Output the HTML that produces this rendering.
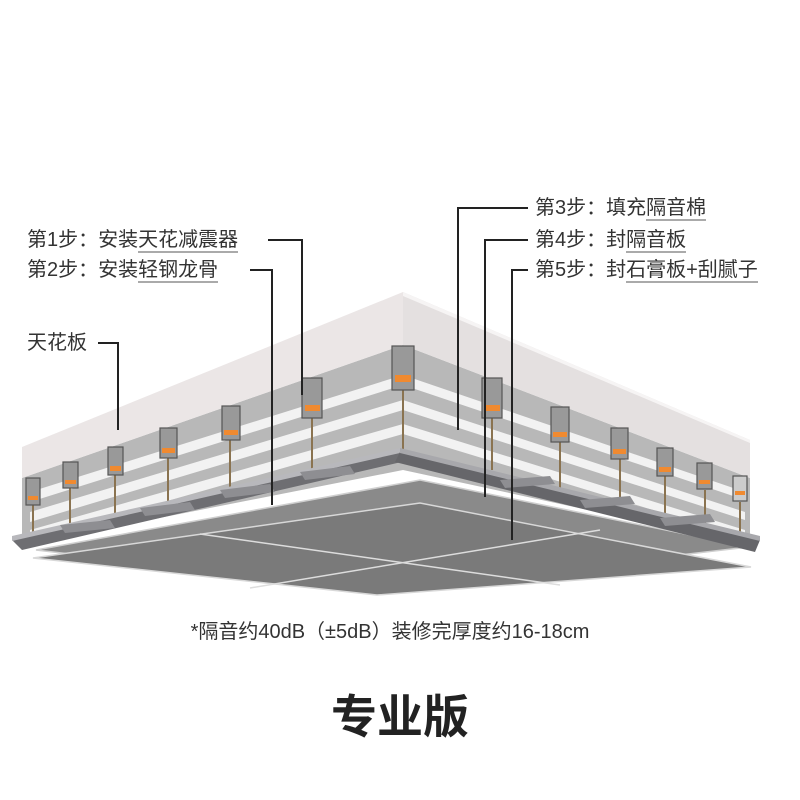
<!DOCTYPE html>
<html><head><meta charset="utf-8"><style>
html,body{margin:0;padding:0;background:#fff;}
body{width:800px;height:800px;position:relative;overflow:hidden;font-family:"Liberation Sans","Noto Sans CJK SC",sans-serif;}
.t{position:absolute;font-size:20px;color:#333;white-space:nowrap;line-height:22px;}
.u{border-bottom:2px solid #aaa;}
</style></head><body>
<svg width="800" height="800" style="position:absolute;left:0;top:0">
<polygon points="22,478 403,345 750,478 750,545 403,470 22,545" fill="#b8b8b8"/>
<g fill="#f2f2f2">
<polygon points="30,492 403,375 745,492 745,500 403,385 30,502"/>
<polygon points="30,512 403,400 745,512 745,520 403,410 30,522"/>
<polygon points="30,530 403,424 745,530 745,538 403,434 30,540"/>
</g>
<polygon points="22,447 403,292 403,345 22,478" fill="#ebe6e6"/>
<polygon points="403,292 750,440 750,478 403,345" fill="#e4e0e0"/>
<polygon points="403,292 750,440 750,443 403,296" fill="#f6f4f4"/>
<polygon points="36,550 420,480 749,547 377,590" fill="#8a8a8a" stroke="#cfcfcf" stroke-width="1.5"/>
<polygon points="33,558 420,503 751,567 377,595" fill="#7a7a7a" stroke="#d8d8d8" stroke-width="1.5"/>
<line x1="200" y1="534" x2="560" y2="585" stroke="#ddd" stroke-width="1.5"/>
<line x1="250" y1="588" x2="600" y2="530" stroke="#ddd" stroke-width="1.5"/>
<g stroke="#8a7350" stroke-width="2">
<line x1="33" y1="505" x2="33" y2="535"/><line x1="70" y1="487" x2="70" y2="525"/>
<line x1="115" y1="475" x2="115" y2="517"/><line x1="168" y1="458" x2="168" y2="505"/>
<line x1="230" y1="440" x2="230" y2="490"/><line x1="312" y1="418" x2="312" y2="470"/>
<line x1="403" y1="390" x2="403" y2="455"/><line x1="492" y1="418" x2="492" y2="470"/>
<line x1="560" y1="440" x2="560" y2="490"/><line x1="620" y1="458" x2="620" y2="505"/>
<line x1="665" y1="475" x2="665" y2="515"/><line x1="705" y1="490" x2="705" y2="525"/>
<line x1="740" y1="502" x2="740" y2="535"/>
</g>
<polygon points="12,540 400,452 410,460 22,550" fill="#6e6e72"/>
<polygon points="12,536 400,448 400,453 12,541" fill="#b8b8bc"/>
<polygon points="400,452 760,540 755,552 395,462" fill="#66666a"/>
<polygon points="400,448 760,536 760,541 400,453" fill="#a8a8ac"/>
<g fill="#8e8e92">
<polygon points="60,525 110,520 115,528 65,533"/><polygon points="140,508 190,502 195,510 145,516"/>
<polygon points="220,490 270,484 275,492 225,498"/><polygon points="300,472 350,466 355,474 305,480"/>
<polygon points="500,480 550,476 555,484 505,488"/><polygon points="580,500 630,496 635,504 585,508"/>
<polygon points="660,518 710,514 715,522 665,526"/>
</g>
<g stroke="#555" stroke-width="1.2">
<rect x="26" y="478" width="14" height="27" fill="#999"/>
<rect x="63" y="462" width="15" height="26" fill="#999"/>
<rect x="108" y="447" width="15" height="28" fill="#999"/>
<rect x="160" y="428" width="17" height="30" fill="#999"/>
<rect x="222" y="406" width="18" height="34" fill="#999"/>
<rect x="302" y="378" width="20" height="40" fill="#999"/>
<rect x="392" y="346" width="22" height="44" fill="#999"/>
<rect x="482" y="378" width="20" height="40" fill="#999"/>
<rect x="551" y="407" width="18" height="35" fill="#999"/>
<rect x="611" y="428" width="17" height="31" fill="#999"/>
<rect x="657" y="448" width="16" height="28" fill="#999"/>
<rect x="697" y="463" width="15" height="26" fill="#999"/>
<rect x="733" y="476" width="14" height="25" fill="#ccc"/>
</g>
<g fill="#f08a30">
<rect x="28" y="496" width="10" height="4"/><rect x="65" y="480" width="11" height="4"/>
<rect x="110" y="466" width="11" height="5"/><rect x="162" y="448" width="13" height="5"/>
<rect x="224" y="430" width="14" height="5"/><rect x="305" y="405" width="15" height="6"/>
<rect x="395" y="375" width="16" height="7"/><rect x="485" y="405" width="15" height="6"/>
<rect x="553" y="432" width="14" height="5"/><rect x="613" y="449" width="13" height="5"/>
<rect x="659" y="467" width="12" height="5"/><rect x="699" y="480" width="11" height="4"/>
<rect x="735" y="491" width="10" height="4"/>
</g>
<g stroke="#222" stroke-width="2" fill="none">
<polyline points="268,240 302,240 302,395"/>
<polyline points="250,270 272,270 272,505"/>
<polyline points="98,343 118,343 118,430"/>
<polyline points="528,208 458,208 458,430"/>
<polyline points="528,240 485,240 485,497"/>
<polyline points="528,270 512,270 512,540"/>
</g>
</svg>
<div class="t" style="left:27px;top:229px">第1步：安装<span class="u">天花减震器</span></div>
<div class="t" style="left:27px;top:259px">第2步：安装<span class="u">轻钢龙骨</span></div>
<div class="t" style="left:27px;top:332px">天花板</div>
<div class="t" style="left:535px;top:197px">第3步：填充<span class="u">隔音棉</span></div>
<div class="t" style="left:535px;top:229px">第4步：封<span class="u">隔音板</span></div>
<div class="t" style="left:535px;top:259px">第5步：封<span class="u">石膏板+刮腻子</span></div>
<div class="t" style="left:0;width:780px;text-align:center;top:621px;font-size:20px">*隔音约40dB（±5dB）装修完厚度约16-18cm</div>
<div class="t" style="left:0;width:800px;text-align:center;top:690px;font-size:46px;line-height:54px;font-weight:bold;color:#222">专业版</div>
</body></html>
